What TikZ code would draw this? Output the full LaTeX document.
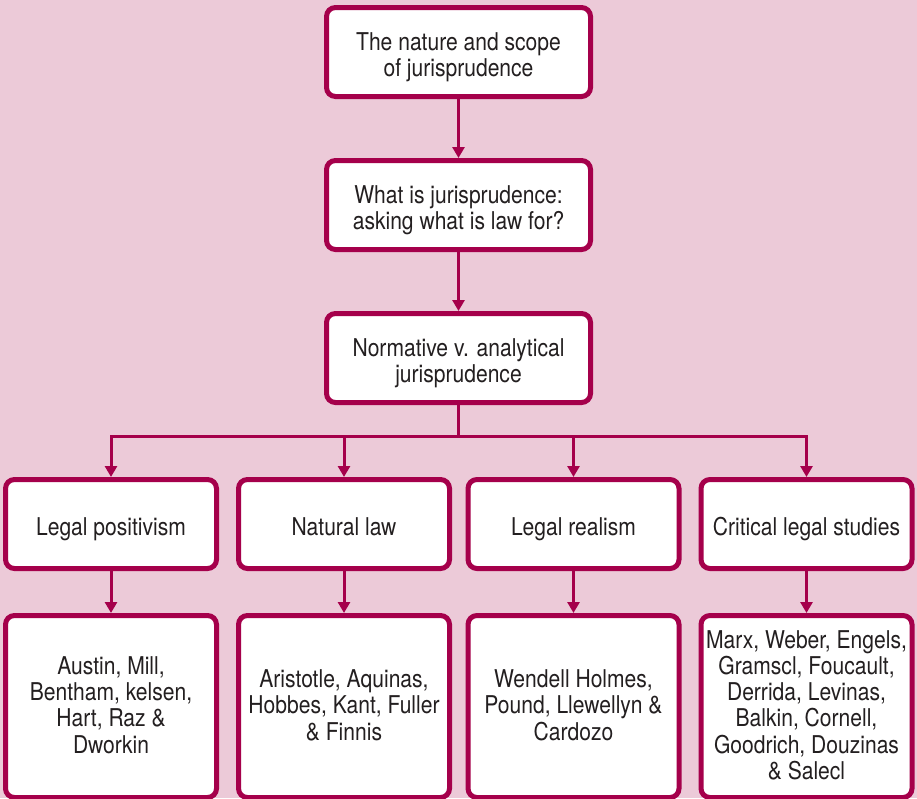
\documentclass[tikz,border=0pt]{standalone}
\usepackage{fontspec}
\setmainfont{TeX Gyre Heros}[FakeStretch=0.86]
\usetikzlibrary{arrows.meta}
\definecolor{pagebg}{HTML}{ECCAD8}
\definecolor{frame}{HTML}{A5004B}
\definecolor{ink}{HTML}{231F20}
% centred block of lines, drawn a little lower while keeping its size
\newcommand{\boxlines}[2][-6pt]{%
  \raisebox{#1}[\height][\depth]{\begin{tabular}{@{}c@{}}#2\end{tabular}}}
\tikzset{
  box/.style={draw=frame, line width=5pt, fill=white, rounded corners=9pt,
    text=ink, inner sep=0pt,
    font=\fontsize{24.5}{26.3}\selectfont},
  topbox/.style={box, minimum width=264pt, minimum height=89pt},
  midbox/.style={box, minimum width=211pt, minimum height=89pt},
  lowbox/.style={box, minimum width=211pt, minimum height=182pt},
  conn/.style={draw=frame, line width=3pt,
    -{Triangle[width=12pt,length=11pt]}},
  trunk/.style={draw=frame, line width=3pt},
}
\begin{document}
\begin{tikzpicture}[x=1pt, y=-1pt]
  \fill[pagebg] (0,0) rectangle (917,798);
  \useasboundingbox (0,0) rectangle (917,798);

  % main chain
  \node[topbox] (scope) at (458.5,52) {\boxlines{The nature and scope\\of jurisprudence}};
  \node[topbox] (what) at (458.5,205) {\boxlines{What is jurisprudence:\\asking what is law for?}};
  \node[topbox] (norm) at (458.5,358) {\boxlines{Normative v. analytical\\jurisprudence}};

  % schools
  \node[midbox] (pos) at (111,524) {\boxlines{Legal positivism}};
  \node[midbox] (nat) at (344,524) {\boxlines{Natural law}};
  \node[midbox] (real) at (573.5,524) {\boxlines{Legal realism}};
  \node[midbox] (cls) at (806.5,524) {\boxlines{Critical legal studies}};

  % thinkers
  \node[lowbox] (posn) at (111,706.5) {\boxlines[-2pt]{Austin, Mill,\\Bentham, kelsen,\\Hart, Raz \&\\Dworkin}};
  \node[lowbox] (natn) at (344,706.5) {\boxlines[-2pt]{Aristotle, Aquinas,\\Hobbes, Kant, Fuller\\\& Finnis}};
  \node[lowbox] (realn) at (573.5,706.5) {\boxlines[-2pt]{Wendell Holmes,\\Pound, Llewellyn \&\\Cardozo}};
  \node[lowbox] (clsn) at (806.5,706.5) {\boxlines[-2pt]{Marx, Weber, Engels,\\Gramscl, Foucault,\\Derrida, Levinas,\\Balkin, Cornell,\\Goodrich, Douzinas\\\& Salecl}};

  % connectors
  \draw[conn] (scope) -- (what);
  \draw[conn] (what) -- (norm);
  \coordinate (split) at (458.5,436);
  \draw[trunk] (norm.south) -- (split);
  \foreach \n in {pos,nat,real,cls}{
    \draw[conn] (split) -| (\n.north);
  }
  \draw[conn] (pos) -- (posn);
  \draw[conn] (nat) -- (natn);
  \draw[conn] (real) -- (realn);
  \draw[conn] (cls) -- (clsn);
\end{tikzpicture}
\end{document}
